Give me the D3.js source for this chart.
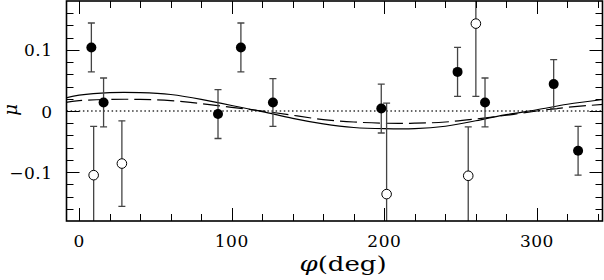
<!DOCTYPE html>
<html>
<head>
<meta charset="utf-8">
<script src="https://cdn.jsdelivr.net/npm/d3@7"></script>
<style>
  body { margin: 0; background: #fff; }
  text { font-family: "DejaVu Serif", serif; fill: #000; }
</style>
</head>
<body>
<svg id="chart" width="604" height="280"></svg>
<script>
// Filled points: phi (deg), mu, symmetric error
var filledPhi = [8, 16, 91, 106, 127, 198, 248, 266, 311, 327];
var filledMu  = [0.104, 0.014, -0.005, 0.104, 0.014, 0.004, 0.064, 0.014, 0.044, -0.065];
var filledErr = [0.04, 0.04, 0.04, 0.04, 0.039, 0.04, 0.04, 0.04, 0.04, 0.04];

// Open points
var openPhi = [9.5, 28, 201.5, 255, 260];
var openMu  = [-0.105, -0.086, -0.136, -0.106, 0.143];
var openErr = [0.08, 0.07, 0.149, 0.08, 0.119];

// Model curves
var curvePhi   = [-9, 0, 20, 40, 60, 80, 100, 120, 140, 160, 180, 200, 220, 240, 260, 280, 300, 320, 344];
var solidMu    = [0.021, 0.026, 0.030, 0.030, 0.027, 0.019, 0.009, -0.001, -0.012, -0.021, -0.027, -0.029, -0.029, -0.025, -0.016, -0.006, 0.002, 0.011, 0.019];
var dashedMu   = [0.014, 0.017, 0.019, 0.019, 0.017, 0.012, 0.006, 0.000, -0.007, -0.014, -0.018, -0.020, -0.020, -0.018, -0.013, -0.007, 0.000, 0.006, 0.011];

var xTicks = [0, 100, 200, 300];
var yTicks = [-0.1, 0, 0.1];

// plot box (window.top is read-only, so keep distinct names)
var boxL = 66.5, boxR = 602.5, boxT = 1, boxB = 221;

var svg = d3.select("#chart");

var x = d3.scaleLinear().domain([-8.3, 343]).range([boxL, boxR]);
var y = d3.scaleLinear().domain([-0.18, 0.18]).range([boxB, boxT]);

svg.append("defs").append("clipPath")
    .attr("id", "plot-clip")
  .append("rect")
    .attr("x", boxL).attr("y", boxT)
    .attr("width", boxR - boxL).attr("height", boxB - boxT);

var plot = svg.append("g").attr("clip-path", "url(#plot-clip)");

// Zero line (dotted).
plot.append("line")
    .attr("x1", boxL).attr("x2", boxR)
    .attr("y1", y(0)).attr("y2", y(0))
    .style("stroke", "#333")
    .style("stroke-width", 1.3)
    .style("stroke-dasharray", "1.5,2.6");

// Model curves.
var line = d3.line().curve(d3.curveNatural);

plot.append("path")
    .attr("d", line(curvePhi.map(function(p, i){ return [x(p), y(solidMu[i])]; })))
    .style("fill", "none").style("stroke", "#000").style("stroke-width", 1.2);

plot.append("path")
    .attr("d", line(curvePhi.map(function(p, i){ return [x(p), y(dashedMu[i])]; })))
    .style("fill", "none").style("stroke", "#000").style("stroke-width", 1.2)
    .style("stroke-dasharray", "17,6");

// Error bars.
function errorBars(phis, mus, errs){
  var g = plot.append("g")
      .style("stroke", "#444")
      .style("stroke-width", 1.3);
  phis.forEach(function(p, i){
    var cx = x(p), y0 = y(mus[i] - errs[i]), y1 = y(mus[i] + errs[i]);
    g.append("line").attr("x1", cx).attr("x2", cx).attr("y1", y0).attr("y2", y1);
    g.append("line").attr("x1", cx - 3.5).attr("x2", cx + 3.5).attr("y1", y0).attr("y2", y0);
    g.append("line").attr("x1", cx - 3.5).attr("x2", cx + 3.5).attr("y1", y1).attr("y2", y1);
  });
}
errorBars(filledPhi, filledMu, filledErr);
errorBars(openPhi, openMu, openErr);

// Points.
svg.append("g").selectAll("circle")
    .data(filledPhi)
  .enter().append("circle")
    .attr("cx", function(d){ return x(d); })
    .attr("cy", function(d, i){ return y(filledMu[i]); })
    .attr("r", 5)
    .style("fill", "#000");

svg.append("g").selectAll("circle")
    .data(openPhi)
  .enter().append("circle")
    .attr("cx", function(d){ return x(d); })
    .attr("cy", function(d, i){ return y(openMu[i]); })
    .attr("r", 4.8)
    .style("fill", "#fff")
    .style("stroke", "#000")
    .style("stroke-width", 1);

// Frame with inward ticks on all four sides.
var xMinor = d3.range(20, 341, 20).filter(function(d){ return xTicks.indexOf(d) < 0; });
var yMinor = d3.range(-0.16, 0.17, 0.02).map(function(d){ return Math.round(d * 100) / 100; })
    .filter(function(d){ return yTicks.indexOf(d) < 0; });

var axes = svg.append("g").style("stroke", "#000").style("stroke-width", 1);

function tickX(list, len){
  list.forEach(function(d){
    var px = Math.round(x(d)) + 0.5;
    axes.append("line").attr("x1", px).attr("x2", px).attr("y1", boxB).attr("y2", boxB - len);
    axes.append("line").attr("x1", px).attr("x2", px).attr("y1", boxT).attr("y2", boxT + len);
  });
}
function tickY(list, len){
  list.forEach(function(d){
    var py = Math.round(y(d)) + 0.5;
    axes.append("line").attr("x1", boxL).attr("x2", boxL + len).attr("y1", py).attr("y2", py);
    axes.append("line").attr("x1", boxR).attr("x2", boxR - len).attr("y1", py).attr("y2", py);
  });
}
tickX(xTicks, 13);
tickX(xMinor, 7);
tickY(yTicks, 13);
tickY(yMinor, 7);

axes.append("rect")
    .attr("x", boxL).attr("y", boxT)
    .attr("width", boxR - boxL).attr("height", boxB - boxT)
    .style("fill", "none")
    .style("stroke-width", 1.6);

// Tick labels.
svg.append("g").selectAll("text")
    .data(xTicks)
  .enter().append("text")
    .attr("x", function(d){ return x(d); })
    .attr("y", 246.5)
    .attr("text-anchor", "middle")
    .style("font-size", "17px")
    .style("letter-spacing", "0.5px")
    .text(function(d){ return d; });

svg.append("g").selectAll("text")
    .data(yTicks)
  .enter().append("text")
    .attr("x", 52.5)
    .attr("y", function(d){ return y(d) + 6.5; })
    .attr("text-anchor", "end")
    .style("font-size", "17px")
    .style("letter-spacing", "0.5px")
    .text(function(d){ return d === 0 ? "0" : (d < 0 ? "\u2212" : "") + Math.abs(d); });

// Axis titles (the original lettering is stretched sideways).
svg.append("text")
    .attr("transform", "translate(343, 271) scale(1.3, 1)")
    .attr("text-anchor", "middle")
    .style("font-size", "20px")
    .html('<tspan font-style="italic">\u03c6</tspan>(deg)');

svg.append("text")
    .attr("transform", "translate(17, 110) rotate(-90)")
    .attr("text-anchor", "middle")
    .style("font-size", "18px")
    .style("font-style", "italic")
    .text("\u03bc");
</script>
</body>
</html>
